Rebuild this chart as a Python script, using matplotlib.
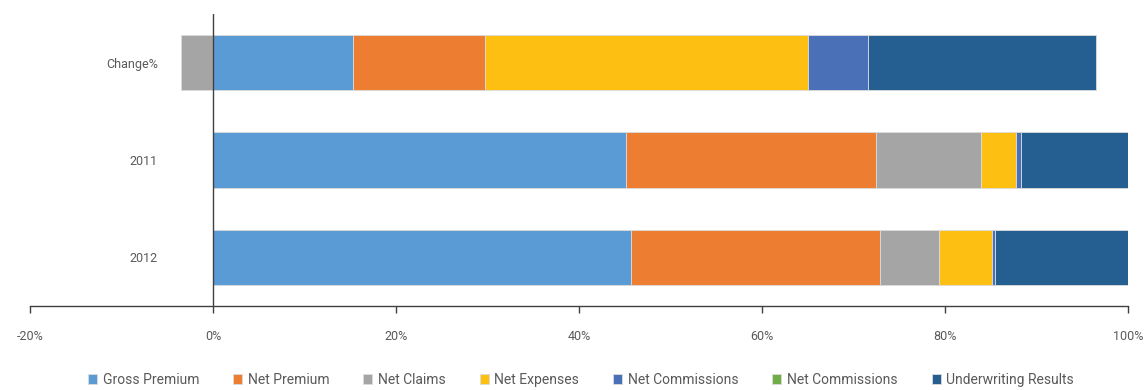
import matplotlib.pyplot as plt
import numpy as np

plt.rcParams['font.family'] = ['Roboto', 'DejaVu Sans']

categories = ["Change%", "2011", "2012"]
series = ["Gross Premium", "Net Premium", "Net Claims", "Net Expenses",
          "Net Commissions", "Net Commissions", "Underwriting Results"]
colors = ["#5B9BD5", "#ED7D31", "#A5A5A5", "#FCBF12",
          "#4A70B8", "#70AD47", "#255E91"]

# share of each item, in percent
gross_premium = [15.3, 45.1, 45.7]
net_premium = [14.4, 27.4, 27.2]
net_claims = [-3.5, 11.4, 6.4]
net_expenses = [35.3, 3.9, 5.8]
net_commissions = [6.6, 0.5, 0.4]
net_commissions_2 = [0.0, 0.0, 0.0]
underwriting = [24.9, 11.7, 14.5]

values = [gross_premium, net_premium, net_claims, net_expenses,
          net_commissions, net_commissions_2, underwriting]

fig = plt.figure(figsize=(11.46, 3.9), dpi=100)
ax = fig.add_axes([30 / 1146, 84 / 390, 1098 / 1146, 292 / 390])

y = np.arange(len(categories))
pos = np.zeros(len(categories))
neg = np.zeros(len(categories))
for name, vals, col in zip(series, values, colors):
    vals = np.array(vals)
    left = np.where(vals >= 0, pos, neg)
    ax.barh(y, vals, left=left, height=0.57, color=col, label=name,
            edgecolor="#dcdcdc", linewidth=0.6)
    pos += np.where(vals >= 0, vals, 0)
    neg += np.where(vals < 0, vals, 0)

ax.set_xlim(-20, 100)
ax.set_ylim(len(categories) - 0.5, -0.5)
ax.axvline(0, color="#404040", linewidth=1, zorder=3)

for s in ["top", "right", "left"]:
    ax.spines[s].set_visible(False)
ax.spines["bottom"].set_color("#404040")
ax.spines["bottom"].set_linewidth(1)

ax.set_xticks(np.arange(-20, 101, 20))
ax.set_xticklabels([f"{t}%" for t in range(-20, 101, 20)])
ax.tick_params(axis="x", length=5, width=1, color="#404040",
               labelcolor="#595959", labelsize=9, pad=12)
ax.set_yticks(y)
ax.set_yticklabels(categories)
ax.tick_params(axis="y", length=0, labelcolor="#595959", labelsize=9,
               pad=-92)

fig.legend(loc="center", bbox_to_anchor=(0.507, 10 / 390), ncol=7,
           frameon=False, fontsize=10, labelcolor="#595959",
           handlelength=0.65, handleheight=0.65, handletextpad=0.4,
           columnspacing=2.45, borderpad=0, borderaxespad=0)

fig.savefig("out.png", dpi=100)
